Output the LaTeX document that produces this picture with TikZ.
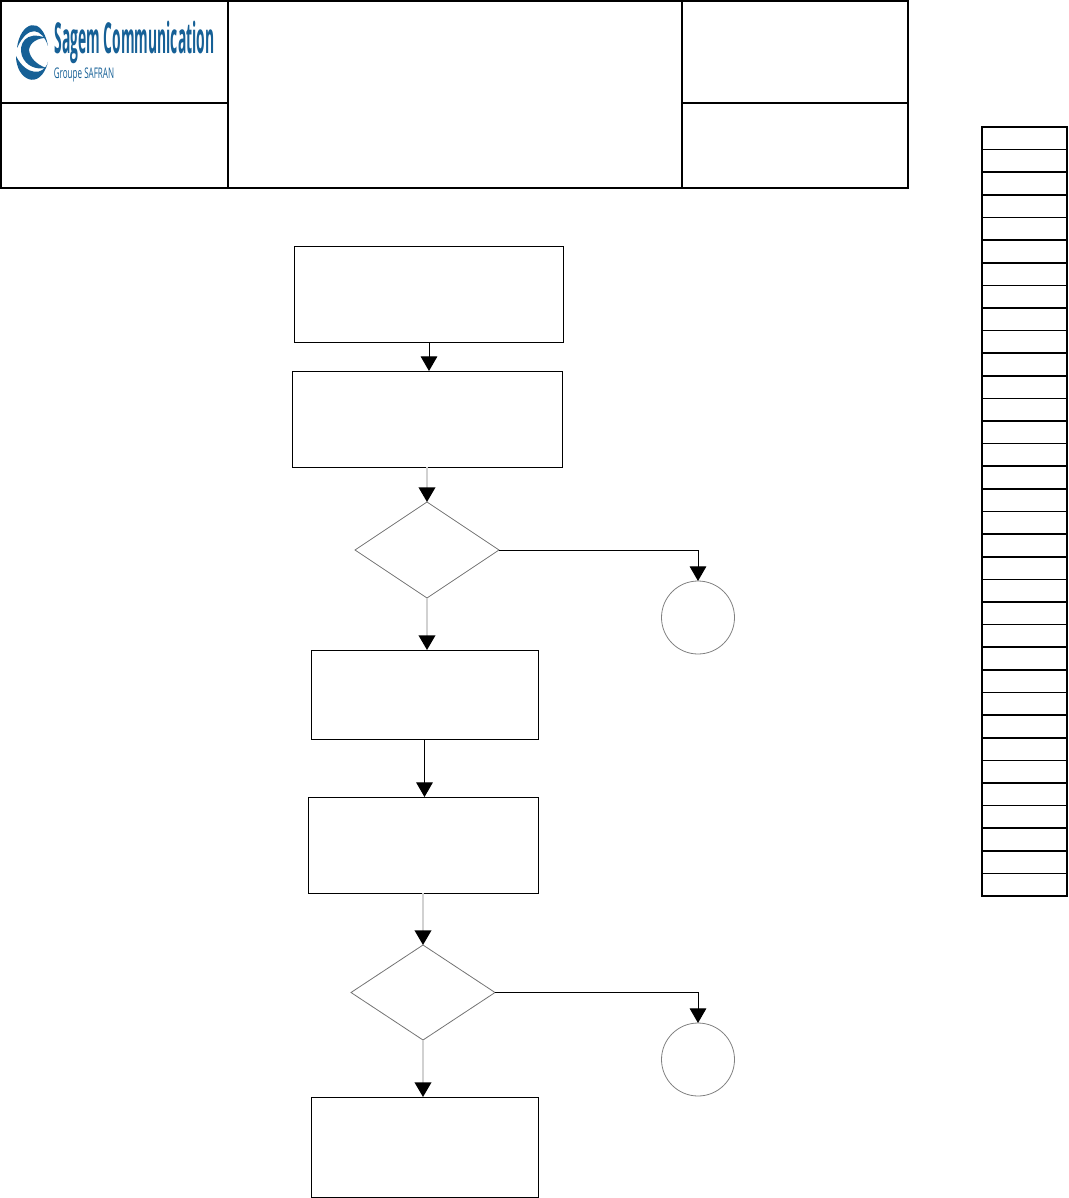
\documentclass[tikz,border=0pt]{standalone}
\usepackage{fontspec}
\setmainfont{Open Sans}
\usetikzlibrary{arrows.meta,shapes.geometric}
\definecolor{sagemblue}{RGB}{22,96,150}
\def\px{0.75pt}
\tikzset{
  cell/.style={draw, line width=2*\px, inner sep=0pt, outer sep=0pt},
  flowbox/.style={draw, line width=1*\px, inner sep=0pt, outer sep=0pt},
  check/.style={draw=black!55, diamond, line width=0.8*\px, inner sep=0pt, outer sep=0pt, aspect=1.5},
  stopnode/.style={draw=black!50, circle, line width=0.8*\px, inner sep=0pt, outer sep=0pt, minimum size=73*\px},
  rowcell/.style={draw, line width=1.6*\px, inner sep=0pt, outer sep=0pt, minimum width=85*\px, minimum height=22.62*\px},
  flow/.style={->, line width=1*\px},
  faint/.style={->, line width=1.6*\px, draw=black!18},
  >={Triangle[width=12.5pt,length=11pt,color=black,fill=black]}
}
\begin{document}
\begin{tikzpicture}[x=\px,y=-\px]
    \useasboundingbox (0,0) rectangle (1068,1198);
    % header
    \node (logo) [cell, minimum width=227*\px, minimum height=102*\px] at (114.5,52) {};
    \node (ref) [cell, minimum width=227*\px, minimum height=85*\px] at (114.5,145.5) {};
    \node (title) [cell, minimum width=454*\px, minimum height=187*\px] at (455,94.5) {};
    \node (issue) [cell, minimum width=226*\px, minimum height=102*\px] at (795,52) {};
    \node (page) [cell, minimum width=226*\px, minimum height=85*\px] at (795,145.5) {};
    \node (logoname) [text=sagemblue, inner sep=0pt, xscale=0.325, font=\fontsize{32pt}{32pt}\selectfont\bfseries] at (134.5,42) {Sagem Communication};
    \node (logogroup) [text=sagemblue, inner sep=0pt, xscale=0.55, font=\fontsize{11pt}{11pt}\selectfont] at (84,75) {Groupe SAFRAN};
    % swirl
    \fill[sagemblue] (17,48) .. controls (20,22) and (42,14) .. (48,46) .. controls (42,28) and (28,24) .. (17,48) -- cycle;
    \fill[sagemblue] (46,38) .. controls (26,30) and (18,44) .. (22,56) .. controls (26,66) and (36,70) .. (46,68) .. controls (36,64) and (30,58) .. (29,50) .. controls (30,42) and (38,38) .. (46,38) -- cycle;
    \fill[sagemblue] (16,56) .. controls (16,80) and (40,92) .. (48,62) .. controls (44,76) and (26,76) .. (16,56) -- cycle;
    % flow
    \node (init) [flowbox, minimum width=269*\px, minimum height=96*\px] at (428.5,294) {};
    \node (load) [flowbox, minimum width=270*\px, minimum height=96*\px] at (427,419) {};
    \node (testa) [check, minimum width=144*\px, minimum height=96*\px] at (427,550) {};
    \node (enda) [stopnode] at (698,617.5) {};
    \node (run) [flowbox, minimum width=227*\px, minimum height=89*\px] at (424.5,694.5) {};
    \node (store) [flowbox, minimum width=230*\px, minimum height=96*\px] at (423,845) {};
    \node (testb) [check, minimum width=144*\px, minimum height=95*\px] at (423,992.5) {};
    \node (endb) [stopnode] at (698,1059.5) {};
    \node (last) [flowbox, minimum width=227*\px, minimum height=100*\px] at (424.5,1147) {};
    \draw[flow] (init.south -| 429,0) -- (load.north -| 429,0);
    \draw[faint] (load.south) -- (testa.north);
    \draw[faint] (testa.south) -- (run.north -| testa.south);
    \draw[flow] (run.south) -- (store.north -| run.south);
    \draw[faint] (store.south) -- (testb.north);
    \draw[faint] (testb.south) -- (last.north -| testb.south);
    \draw[flow] (testa.east) -| (enda.north);
    \draw[flow] (testb.east) -| (endb.north);
    % side column
    \foreach \i in {0,...,33}
      \node (row\i) [rowcell] at (1024.5,{138.3+22.62*\i}) {};
\end{tikzpicture}
\end{document}
